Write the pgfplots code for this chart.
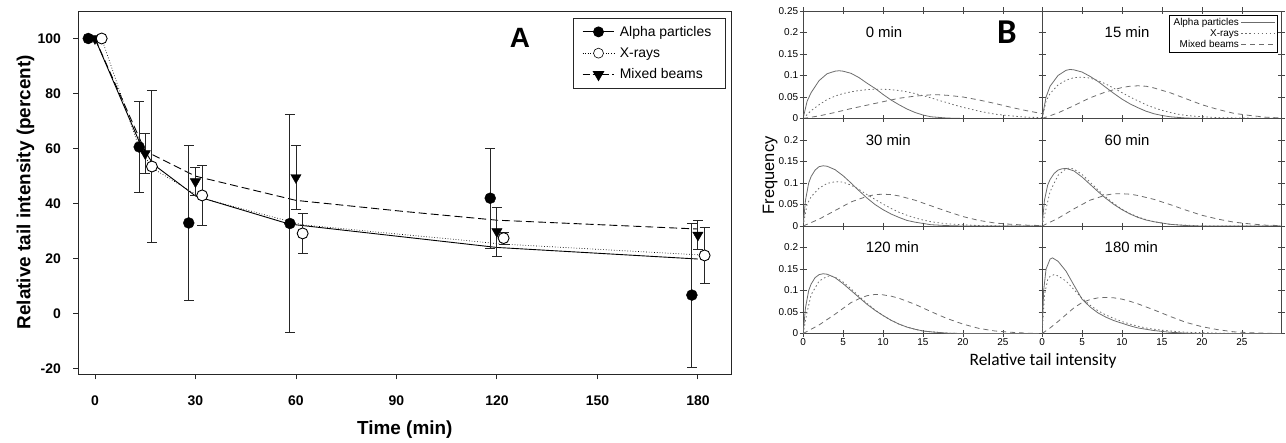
\documentclass[border=0pt]{standalone}
\usepackage{pgfplots}
\pgfplotsset{compat=1.18}
\usepackage{fontspec}
\setmainfont{Liberation Sans}
\newfontfamily\carlito{Carlito}
\begin{document}
\pgfplotsset{
  bpanel/.style={scale only axis, width=240pt, height=108pt, anchor=south west,
    xmin=0, xmax=29.9, ymin=0, ymax=0.25,
    xtick={0,5,10,15,20,25}, ytick={0,0.05,0.1,0.15,0.2,0.25},
    xticklabels={}, yticklabels={},
    tick align=center, major tick length=7pt,
    axis line style={gray!55!black, line width=0.8pt},
    tick style={gray!55!black, line width=0.7pt},
    tick label style={font=\fontsize{10}{10}\selectfont},
    xticklabel style={yshift=2pt}, yticklabel style={xshift=2pt}},
  aC/.style={gray!85!black, line width=0.8pt},
  xC/.style={gray!85!black, line width=0.8pt, dash pattern=on 1.5pt off 2.6pt},
  mC/.style={gray!85!black, line width=0.8pt, dash pattern=on 5pt off 4pt},
}
\tikzset{plab/.style={anchor=west, font=\fontsize{15}{15}\selectfont}}
\begin{tikzpicture}[x=1pt,y=1pt]
\path[use as bounding box] (0,0) rectangle (1286,444);
% ---------------- Panel A ----------------
\begin{axis}[at={(73pt,68pt)}, anchor=south west, scale only axis,
  width=656pt, height=365pt,
  xmin=-5, xmax=190, ymin=-22, ymax=110,
  xtick={0,30,60,90,120,150,180}, xticklabels={0,30,60,90,120,150,180},
  ytick={-20,0,20,40,60,80,100}, yticklabels={-20,0,20,40,60,80,100},
  tick pos=left, tick align=outside, major tick length=5pt,
  tick label style={font=\fontsize{14}{14}\selectfont\bfseries},
  xticklabel style={yshift=-13pt}, yticklabel style={xshift=-9pt},
  axis line style={black!85, line width=0.9pt},
  tick style={black!85, line width=0.9pt},
  legend style={at={(rel axis cs:1,1)}, anchor=north east, xshift=-6pt, yshift=-7pt,
    draw=black!85, font=\fontsize{14}{14}\selectfont, row sep=6pt,
    inner xsep=9pt, inner ysep=6pt,
    nodes={inner xsep=5pt}},
  legend cell align=left,
  legend image code/.code={\draw[mark repeat=2,mark phase=2,#1] plot coordinates {(0pt,0pt) (16pt,0pt) (32pt,0pt)};},
]
\addlegendimage{black, line width=0.9pt, mark=*, mark size=5pt}
\addlegendentry{Alpha particles}
\addlegendimage{black, dotted, line width=0.6pt, mark=*, mark size=5pt, mark options={solid, fill=white, draw=black}}
\addlegendentry{X-rays}
\addlegendimage{black, line width=0.9pt, dash pattern=on 7pt off 3pt, mark=triangle*, mark size=6pt, mark options={solid, rotate=180}}
\addlegendentry{Mixed beams\hspace*{8pt}}
% fitted lines
\addplot[black, line width=0.9pt, forget plot] coordinates {(-2,100)(0,100)(13.4,62)(17.4,54.3)(30,42.8)(58,32.6)(120,24.1)(180,19.9)};
\addplot[black, line width=0.7pt, dotted, forget plot] coordinates {(0,100)(2,100)(13,61)(17,53)(32,42)(62,32.3)(122,25.3)(182,21.3)};
\addplot[black, line width=0.9pt, dash pattern=on 8pt off 4pt, forget plot] coordinates {(0,100)(15,59.1)(30,50)(60,41.2)(92,37.2)(120,34)(180,30.8)};
% data
\addplot[only marks, black, mark=*, mark size=5.5pt, forget plot,
  error bars/.cd, y dir=both, y explicit,
  error bar style={gray!30!black, line width=0.9pt},
  error mark options={rotate=90, mark size=5pt, gray!30!black, line width=0.9pt}]
  table[x=x, y=y, y error=e] {
x y e
-2 100 0
13.2 60.6 16.5
28 33 28
58.2 32.8 39.7
118 42 18.2
178.2 6.8 26.2
};
\addplot[only marks, black, mark=triangle*, mark size=6pt, mark options={rotate=180}, forget plot,
  error bars/.cd, y dir=both, y explicit,
  error bar style={gray!30!black, line width=0.9pt},
  error mark options={rotate=90, mark size=5pt, gray!30!black, line width=0.9pt}]
  table[x=x, y=y, y error=e] {
x y e
0 100 0
15 58.2 7.3
30 48 5
60 49.5 11.5
120 29.9 8.9
180 28.6 5.4
};
\addplot[only marks, black, mark=*, mark size=5.5pt, mark options={fill=white, draw=black, line width=0.9pt}, forget plot,
  error bars/.cd, y dir=both, y explicit,
  error bar style={gray!30!black, line width=0.9pt},
  error mark options={rotate=90, mark size=5pt, gray!30!black, line width=0.9pt}]
  table[x=x, y=y, y error=e] {
x y e
2 100 0
17 53.5 27.5
32 43 11
62 29.2 7.2
122 27.5 2.2
182 21.2 10
};
\node[font=\fontsize{28}{28}\selectfont\bfseries] at (axis cs:126.9,100.3) {A};
\end{axis}
\node[rotate=90, font=\fontsize{19}{19}\selectfont\bfseries] at (20,251) {Relative tail intensity (percent)};
\node[font=\fontsize{19}{19}\selectfont\bfseries] at (401,13) {Time (min)};
% ---------------- Panel B ----------------
% top-left 0 min
\begin{axis}[bpanel, at={(801pt,325pt)}, yticklabels={0,0.05,0.1,0.15,0.2,0.25}]
\addplot[aC] coordinates {(0,0)(0.5,0.04)(1,0.06)(2,0.088)(3,0.104)(4,0.11)(4.5,0.111)(5,0.11)(6,0.105)(7,0.095)(8,0.082)(9,0.07)(10,0.056)(11,0.043)(12,0.032)(13,0.022)(14,0.014)(15,0.008)(16,0.004)(18,0.001)(20,0)(30,0)};
\addplot[xC] coordinates {(0,0)(1,0.018)(2,0.032)(3,0.044)(4,0.052)(5,0.058)(6,0.062)(7,0.065)(8,0.067)(9,0.068)(10,0.068)(11,0.067)(12,0.065)(13,0.062)(14,0.058)(15,0.053)(16,0.048)(17,0.042)(18,0.037)(19,0.031)(20,0.026)(22,0.017)(24,0.01)(26,0.006)(28,0.003)(30,0.002)};
\addplot[mC] coordinates {(0,0)(2,0.006)(4,0.014)(6,0.023)(8,0.031)(10,0.039)(12,0.047)(14,0.052)(16,0.055)(17,0.055)(18,0.054)(20,0.05)(22,0.043)(24,0.035)(26,0.026)(28,0.018)(30,0.011)};
\node[plab] at (axis cs:7.4,0.2) {0 min};
\node[font=\carlito\fontsize{35}{35}\selectfont\bfseries] at (axis cs:25.5,0.2) {B};
\end{axis}
% top-right 15 min
\begin{axis}[bpanel, at={(1041pt,325pt)},
  legend style={at={(rel axis cs:1,1)}, anchor=north east, xshift=-3pt, yshift=-4pt,
    draw=black, line width=1pt, font=\fontsize{10}{10}\selectfont, row sep=-1.5pt, inner xsep=2pt, inner ysep=1pt},
  legend plot pos=right, legend cell align=right,
  legend image code/.code={\draw[#1] (0pt,0pt) -- (34pt,0pt);}]
\addplot[aC] coordinates {(0,0)(0.5,0.05)(1,0.075)(2,0.1)(3,0.112)(3.5,0.114)(4,0.113)(5,0.108)(6,0.098)(7,0.086)(8,0.072)(9,0.058)(10,0.045)(11,0.034)(12,0.025)(13,0.017)(14,0.011)(15,0.007)(16,0.004)(18,0.001)(20,0)(30,0)};
\addlegendentry{Alpha particles}
\addplot[xC] coordinates {(0,0)(0.5,0.04)(1,0.058)(2,0.078)(3,0.089)(4,0.095)(5,0.096)(6,0.094)(7,0.088)(8,0.08)(9,0.07)(10,0.06)(11,0.05)(12,0.041)(13,0.032)(14,0.025)(15,0.019)(16,0.014)(17,0.01)(18,0.007)(20,0.004)(22,0.002)(25,0.001)(30,0)};
\addlegendentry{X-rays}
\addplot[mC] coordinates {(0,0)(2,0.013)(4,0.03)(6,0.048)(8,0.062)(10,0.072)(11,0.075)(12,0.076)(13,0.075)(14,0.071)(16,0.06)(18,0.046)(20,0.032)(22,0.021)(24,0.012)(26,0.007)(28,0.003)(30,0.001)};
\addlegendentry{Mixed beams}
\node[plab] at (axis cs:7.4,0.2) {15 min};
\end{axis}
% middle-left 30 min
\begin{axis}[bpanel, at={(801pt,217pt)}, yticklabels={0,0.05,0.1,0.15,0.2,{}}]
\addplot[aC] coordinates {(0,0)(0.3,0.06)(0.7,0.1)(1,0.115)(1.5,0.13)(2,0.138)(2.5,0.14)(3,0.139)(4,0.131)(5,0.117)(6,0.1)(7,0.082)(8,0.065)(9,0.05)(10,0.038)(11,0.028)(12,0.02)(13,0.013)(14,0.009)(15,0.006)(16,0.003)(18,0.001)(20,0)(30,0)};
\addplot[xC] coordinates {(0,0)(0.5,0.05)(1,0.068)(2,0.088)(3,0.099)(4,0.103)(5,0.102)(6,0.095)(7,0.085)(8,0.073)(9,0.062)(10,0.051)(11,0.041)(12,0.032)(13,0.025)(14,0.019)(15,0.014)(16,0.01)(18,0.005)(20,0.003)(22,0.001)(25,0)(30,0)};
\addplot[mC] coordinates {(0,0)(2,0.016)(4,0.036)(6,0.056)(8,0.069)(9,0.073)(10,0.074)(11,0.073)(12,0.07)(14,0.06)(16,0.047)(18,0.034)(20,0.022)(22,0.013)(24,0.007)(26,0.004)(28,0.002)(30,0.001)};
\node[plab] at (axis cs:7.4,0.2) {30 min};
\end{axis}
% middle-right 60 min
\begin{axis}[bpanel, at={(1041pt,217pt)}]
\addplot[aC] coordinates {(0,0)(0.3,0.06)(0.7,0.095)(1,0.108)(1.5,0.122)(2,0.13)(2.5,0.133)(3,0.134)(4,0.128)(5,0.114)(6,0.097)(7,0.08)(8,0.064)(9,0.05)(10,0.038)(11,0.028)(12,0.02)(13,0.014)(14,0.01)(15,0.007)(16,0.004)(18,0.001)(20,0)(30,0)};
\addplot[xC] coordinates {(0,0)(0.5,0.04)(1,0.08)(2,0.118)(3,0.133)(3.5,0.135)(4,0.132)(5,0.12)(6,0.102)(7,0.084)(8,0.067)(9,0.052)(10,0.039)(11,0.029)(12,0.021)(13,0.015)(14,0.01)(15,0.007)(16,0.004)(18,0.002)(20,0)(30,0)};
\addplot[mC] coordinates {(0,0)(2,0.018)(4,0.04)(6,0.06)(8,0.072)(9,0.075)(10,0.075)(11,0.074)(12,0.071)(14,0.062)(16,0.05)(18,0.037)(20,0.025)(22,0.016)(24,0.009)(26,0.005)(28,0.002)(30,0.001)};
\node[plab] at (axis cs:7.4,0.2) {60 min};
\end{axis}
% bottom-left 120 min
\begin{axis}[bpanel, at={(801pt,109pt)}, yticklabels={0,0.05,0.1,0.15,0.2,{}}, xticklabels={0,5,10,15,20,25}]
\addplot[aC] coordinates {(0,0)(0.3,0.06)(0.7,0.1)(1,0.115)(1.5,0.13)(2,0.137)(2.5,0.139)(3,0.138)(4,0.13)(5,0.116)(6,0.1)(7,0.084)(8,0.068)(9,0.054)(10,0.042)(11,0.031)(12,0.022)(13,0.015)(14,0.01)(15,0.006)(16,0.004)(18,0.001)(20,0)(30,0)};
\addplot[xC] coordinates {(0,0)(0.5,0.05)(1,0.09)(2,0.122)(3,0.133)(3.5,0.134)(4,0.131)(5,0.12)(6,0.104)(7,0.087)(8,0.07)(9,0.055)(10,0.042)(11,0.031)(12,0.022)(13,0.015)(14,0.01)(15,0.006)(16,0.004)(18,0.001)(20,0)(30,0)};
\addplot[mC] coordinates {(0,0)(2,0.02)(4,0.045)(6,0.072)(7,0.081)(8,0.088)(9,0.091)(10,0.09)(11,0.087)(12,0.082)(14,0.068)(16,0.051)(18,0.035)(20,0.022)(22,0.012)(24,0.006)(26,0.003)(28,0.001)(30,0)};
\node[plab] at (axis cs:7.4,0.2) {120 min};
\end{axis}
% bottom-right 180 min
\begin{axis}[bpanel, at={(1041pt,109pt)}, xticklabels={0,5,10,15,20,25}]
\addplot[aC] coordinates {(0,0)(0.2,0.1)(0.5,0.15)(1,0.173)(1.3,0.176)(2,0.168)(3,0.145)(4,0.112)(5,0.08)(6,0.062)(7,0.048)(8,0.038)(9,0.03)(10,0.024)(11,0.018)(12,0.013)(13,0.01)(14,0.007)(15,0.005)(16,0.003)(18,0.001)(20,0)(30,0)};
\addplot[xC] coordinates {(0,0)(0.3,0.09)(0.7,0.125)(1,0.133)(1.5,0.137)(2,0.134)(3,0.122)(4,0.102)(5,0.082)(6,0.066)(7,0.053)(8,0.043)(9,0.035)(10,0.028)(11,0.022)(12,0.017)(13,0.013)(14,0.01)(15,0.008)(16,0.006)(18,0.003)(20,0.002)(22,0.001)(25,0)(30,0)};
\addplot[mC] coordinates {(0,0)(1,0.013)(2,0.028)(3,0.044)(4,0.06)(5,0.072)(6,0.079)(7,0.083)(8,0.084)(9,0.083)(10,0.08)(11,0.075)(12,0.069)(14,0.055)(16,0.04)(18,0.026)(20,0.016)(22,0.009)(24,0.004)(26,0.002)(28,0.001)(30,0)};
\node[plab] at (axis cs:7.4,0.2) {180 min};
\end{axis}
\node[rotate=90, font=\fontsize{16.5}{16.5}\selectfont] at (768,268) {Frequency};
\node[font=\carlito\fontsize{17.5}{17.5}\selectfont] at (1042,82) {Relative tail intensity};
\end{tikzpicture}
\end{document}
